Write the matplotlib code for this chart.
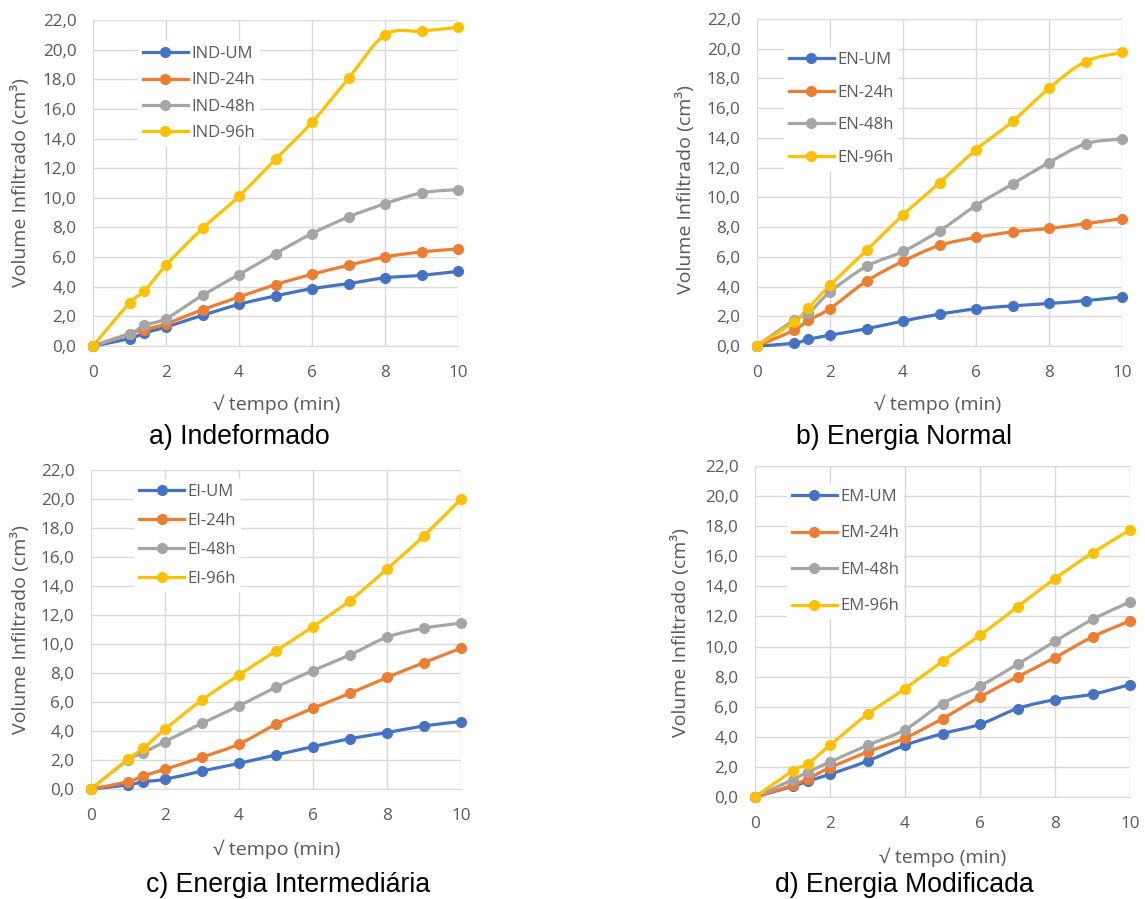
import matplotlib
matplotlib.use('Agg')
import matplotlib.pyplot as plt
from matplotlib.path import Path
from matplotlib.patches import PathPatch
from matplotlib.lines import Line2D

# raiz do tempo (min)
x = [0, 1, 1.41, 2, 3, 4, 5, 6, 7, 8, 9, 10]

ind_um = [0, 0.5, 0.88, 1.28, 2.07, 2.81, 3.38, 3.87, 4.21, 4.6, 4.77, 5.04]
ind_24 = [0, 0.83, 1.1, 1.5, 2.45, 3.3, 4.14, 4.84, 5.45, 6.01, 6.35, 6.55]
ind_48 = [0, 0.8, 1.4, 1.85, 3.42, 4.82, 6.24, 7.59, 8.71, 9.6, 10.33, 10.56]
ind_96 = [0, 2.9, 3.7, 5.45, 7.93, 10.1, 12.6, 15.1, 18.06, 21.0, 21.25, 21.5]

en_um = [0, 0.18, 0.45, 0.73, 1.16, 1.68, 2.14, 2.5, 2.7, 2.86, 3.05, 3.3]
en_24 = [0, 1.05, 1.73, 2.52, 4.36, 5.7, 6.77, 7.3, 7.68, 7.91, 8.23, 8.57]
en_48 = [0, 1.73, 2.2, 3.64, 5.36, 6.36, 7.75, 9.45, 10.9, 12.34, 13.6, 13.93]
en_96 = [0, 1.6, 2.57, 4.09, 6.43, 8.82, 10.98, 13.2, 15.11, 17.34, 19.14, 19.75]

ei_um = [0, 0.28, 0.5, 0.67, 1.24, 1.77, 2.35, 2.92, 3.47, 3.89, 4.35, 4.65]
ei_24 = [0, 0.5, 0.9, 1.36, 2.19, 3.1, 4.46, 5.57, 6.6, 7.69, 8.72, 9.71]
ei_48 = [0, 2.0, 2.5, 3.27, 4.53, 5.73, 7.02, 8.17, 9.25, 10.47, 11.09, 11.44]
ei_96 = [0, 2.05, 2.8, 4.12, 6.14, 7.87, 9.53, 11.2, 13.0, 15.17, 17.47, 20.0]

em_um = [0, 0.71, 1.06, 1.51, 2.39, 3.44, 4.21, 4.83, 5.88, 6.47, 6.83, 7.47]
em_24 = [0, 0.78, 1.22, 1.95, 2.99, 3.92, 5.21, 6.65, 7.98, 9.27, 10.64, 11.71]
em_48 = [0, 1.15, 1.66, 2.33, 3.44, 4.48, 6.21, 7.38, 8.82, 10.35, 11.8, 12.97]
em_96 = [0, 1.73, 2.22, 3.44, 5.5, 7.2, 9.02, 10.75, 12.64, 14.52, 16.23, 17.74]

suffixes = ['UM', '24h', '48h', '96h']
colors = ['#4472C4', '#ED7D31', '#A5A5A5', '#FFC000']
yticks = [0, 2, 4, 6, 8, 10, 12, 14, 16, 18, 20, 22]
ytick_labels = ['0,0', '2,0', '4,0', '6,0', '8,0', '10,0', '12,0', '14,0', '16,0', '18,0', '20,0', '22,0']
xticks = [0, 2, 4, 6, 8, 10]

TXT = '#595959'
FONT = 'Open Sans'


def smooth_path(xs, ys):
    # curva suavizada estilo Excel (Bezier a partir de Catmull-Rom)
    pts = list(zip(xs, ys))
    n = len(pts)
    verts = [pts[0]]
    codes = [Path.MOVETO]
    for i in range(n - 1):
        p0 = pts[i - 1] if i > 0 else pts[i]
        p1 = pts[i]
        p2 = pts[i + 1]
        p3 = pts[i + 2] if i + 2 < n else pts[i + 1]
        c1 = (p1[0] + (p2[0] - p0[0]) / 6, p1[1] + (p2[1] - p0[1]) / 6)
        c2 = (p2[0] - (p3[0] - p1[0]) / 6, p2[1] - (p3[1] - p1[1]) / 6)
        verts += [c1, c2, p2]
        codes += [Path.CURVE4] * 3
    return Path(verts, codes)


def panel(ax, prefix, series, leg_anchor, leg_spacing):
    for s, c in zip(series, colors):
        ax.add_patch(PathPatch(smooth_path(x, s), facecolor='none', edgecolor=c,
                               lw=2.3, zorder=3, clip_on=False))
        ax.plot(x, s, 'o', color=c, ms=7, zorder=4, clip_on=False)
    ax.set_xlim(0, 10)
    ax.set_ylim(0, 22)
    ax.set_xticks(xticks)
    ax.set_yticks(yticks)
    ax.set_yticklabels(ytick_labels)
    ax.grid(True, color='#D9D9D9', lw=1)
    ax.set_axisbelow(True)
    for sp in ['top', 'right', 'left']:
        ax.spines[sp].set_visible(False)
    ax.spines['bottom'].set_color('#D9D9D9')
    ax.tick_params(length=0, labelsize=12.3, labelcolor=TXT)
    ax.tick_params(axis='x', pad=14)
    ax.tick_params(axis='y', pad=12)
    for lab in ax.get_xticklabels() + ax.get_yticklabels():
        lab.set_family(FONT)
    handles = [Line2D([], [], color=c, lw=2.3, marker='o', ms=7) for c in colors]
    labels = [prefix + '-' + s for s in suffixes]
    leg = ax.legend(handles, labels, loc='upper left', bbox_to_anchor=leg_anchor,
                    frameon=True, facecolor='white', edgecolor='none', framealpha=1,
                    fancybox=False, handlelength=2.7, handletextpad=0.2,
                    labelspacing=leg_spacing, borderpad=0.3,
                    prop={'family': FONT, 'size': 12})
    for t in leg.get_texts():
        t.set_color(TXT)


fig = plt.figure(figsize=(11.45, 8.99), dpi=100)
W, H = 1145.0, 899.0


def add_axes(left, top, right, bottom):
    return fig.add_axes([left / W, 1 - bottom / H, (right - left) / W, (bottom - top) / H])


ax_a = add_axes(93, 20, 458, 346)
ax_b = add_axes(757, 19, 1122, 346)
ax_c = add_axes(91, 470, 461, 789)
ax_d = add_axes(755, 466, 1130, 797)

panel(ax_a, 'IND', [ind_um, ind_24, ind_48, ind_96], (0.10, 0.961), 0.62)
panel(ax_b, 'EN', [en_um, en_24, en_48, en_96], (0.05, 0.940), 1.0)
panel(ax_c, 'EI', [ei_um, ei_24, ei_48, ei_96], (0.095, 0.998), 0.78)
panel(ax_d, 'EM', [em_um, em_24, em_48, em_96], (0.062, 0.971), 1.23)

# rotulos dos eixos
for xc, yc in [(277, 404), (938, 404), (277, 849), (943, 857)]:
    fig.text(xc / W, 1 - yc / H, '√ tempo (min)', ha='center', va='center',
             fontsize=14, color=TXT, family=FONT)
for xc, yc in [(21, 183), (685, 190), (21, 630), (680, 633)]:
    fig.text(xc / W, 1 - yc / H, 'Volume Infiltrado (cm³)', ha='center', va='center',
             rotation=90, fontsize=14, color=TXT, family=FONT)

# legendas das figuras
captions = ['a) Indeformado', 'b) Energia Normal', 'c) Energia Intermediária', 'd) Energia Modificada']
for cap, (xc, yc) in zip(captions, [(239, 437), (904, 437), (288, 885), (904, 885)]):
    fig.text(xc / W, 1 - yc / H, cap, ha='center', va='center', fontsize=19.2,
             color='black', family='Liberation Sans')

fig.savefig('out.png', dpi=100)
